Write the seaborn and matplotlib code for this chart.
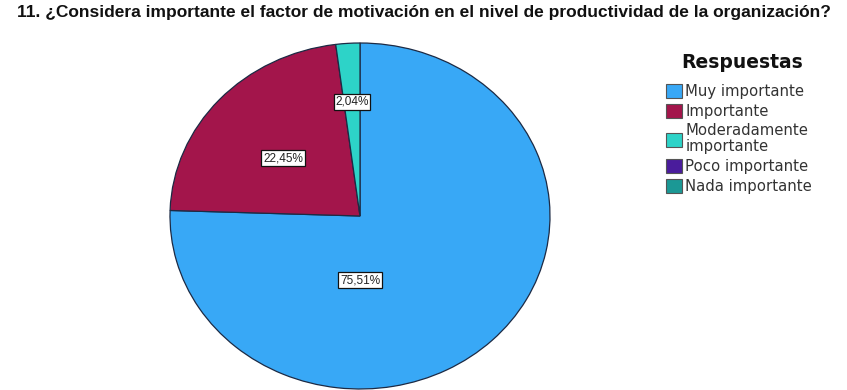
import matplotlib
matplotlib.use("Agg")
import matplotlib.pyplot as plt
from matplotlib.patches import Patch
import seaborn as sns

# Survey responses and their shares (%)
categories = ["Muy importante", "Importante", "Moderadamente\nimportante",
              "Poco importante", "Nada importante"]
percentages = [75.51, 22.45, 2.04, 0.0, 0.0]
colors = ["#38a8f6", "#a3154b", "#2dd3c8", "#4a1c9c", "#1b9895"]
title = "11. ¿Considera importante el factor de motivación en el nivel de productividad de la organización?"
legend_title = "Respuestas"

# label anchor points inside each wedge (axes data units)
label_pos = [(0.0, -0.37), (-0.405, 0.335), (-0.042, 0.66)]

sns.set_theme(style="white")
plt.rcParams["font.family"] = ["Liberation Sans", "DejaVu Sans"]

fig = plt.figure(figsize=(8.47, 3.90), dpi=100)
fig.patch.set_facecolor("white")

ax = fig.add_axes([170 / 847, 1 / 390, 380 / 847, 346 / 390])

shown = [(v, c) for v, c in zip(percentages, colors) if v > 0]
vals = [v for v, _ in shown]
cols = [c for _, c in shown]

wedges, _ = ax.pie(vals, colors=cols, startangle=90, counterclock=False,
                   wedgeprops=dict(edgecolor="#1c2a44", linewidth=0.9))
ax.set_aspect("auto")
ax.set_xlim(-1, 1)
ax.set_ylim(-1, 1)
ax.axis("off")

for v, (x, y) in zip(vals, label_pos):
    ax.text(x, y, f"{v:.2f}%".replace(".", ","), ha="center", va="center",
            fontsize=8.5, color="#222222",
            bbox=dict(boxstyle="square,pad=0.15", facecolor="white",
                      edgecolor="#111111", linewidth=0.9))

fig.text(0.5, 1 - 12 / 390, title, ha="center", va="center",
         fontsize=12.5, fontweight="bold", color="#111111")

fig.text(742 / 847, 1 - 62 / 390, legend_title, ha="center", va="center",
         fontsize=13.5, fontweight="bold", family="DejaVu Sans", color="#111111")

handles = [Patch(facecolor=c, edgecolor="#555555", linewidth=0.8) for c in colors]
leg = fig.legend(handles, categories, loc="upper left",
                 bbox_to_anchor=(666 / 847, 1 - 84 / 390),
                 frameon=False,
                 prop=dict(family="DejaVu Sans", size=10.7),
                 handlelength=1.1, handleheight=1.1, handletextpad=0.2,
                 labelspacing=0.3, borderpad=0.0, borderaxespad=0.0)
for t in leg.get_texts():
    t.set_color("#333333")
    t.set_linespacing(1.1)

fig.savefig("out.png", dpi=100, facecolor="white")
